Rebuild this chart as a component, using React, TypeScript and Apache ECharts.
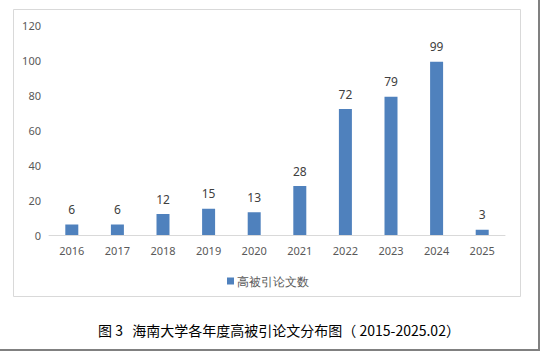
import React, { useEffect, useRef } from "react";
import * as echarts from "echarts";

const categories = ["2016", "2017", "2018", "2019", "2020", "2021", "2022", "2023", "2024", "2025"];
const paperCounts = [6, 6, 12, 15, 13, 28, 72, 79, 99, 3];
const seriesName = "高被引论文数";
const captionText = "图 3   海南大学各年度高被引论文分布图（ 2015-2025.02）";

export default function App() {
  const ref = useRef<HTMLDivElement>(null);
  useEffect(() => {
    if (!ref.current) return;
    const chart = echarts.init(ref.current, null, { renderer: "svg" });
    chart.setOption({
      animation: false,
      backgroundColor: "#ffffff",
      textStyle: { fontFamily: "Noto Sans" },
      grid: { left: 49, right: 35, top: 25, bottom: 116, containLabel: false },
      xAxis: {
        type: "category",
        data: categories,
        axisLine: { show: true, lineStyle: { color: "#d9d9d9", width: 1 } },
        axisTick: { show: false },
        axisLabel: { color: "#595959", fontSize: 11, margin: 10 },
      },
      yAxis: {
        type: "value",
        min: 0,
        max: 120,
        interval: 20,
        axisLine: { show: false },
        axisTick: { show: false },
        splitLine: { show: false },
        axisLabel: { color: "#595959", fontSize: 11, margin: 8 },
      },
      legend: {
        data: [seriesName],
        left: 222,
        top: 270,
        icon: "rect",
        itemWidth: 7,
        itemHeight: 7,
        itemGap: 4,
        textStyle: { color: "#595959", fontSize: 12, padding: [0, 0, 0, -2] },
      },
      series: [
        {
          name: seriesName,
          type: "bar",
          data: paperCounts,
          barWidth: 13,
          itemStyle: { color: "#4f81bd" },
          label: { show: true, position: "top", distance: 9, color: "#404040", fontSize: 12 },
        },
      ],
      graphic: [
        {
          type: "rect",
          shape: { x: 13.5, y: 9.5, width: 507, height: 287 },
          style: { fill: "none", stroke: "#d9d9d9", lineWidth: 1 },
          silent: true,
        },
        {
          type: "line",
          shape: { x1: 539, y1: 0, x2: 539, y2: 351 },
          style: { stroke: "#808080", lineWidth: 2 },
          silent: true,
        },
        {
          type: "line",
          shape: { x1: 0, y1: 350, x2: 540, y2: 350 },
          style: { stroke: "#808080", lineWidth: 2 },
          silent: true,
        },
        {
          type: "text",
          x: 98,
          y: 330,
          style: {
            text: captionText,
            fill: "#000000",
            fontSize: 14,
            fontFamily: "Noto Sans CJK SC",
            verticalAlign: "middle",
            align: "left",
          },
          silent: true,
        },
      ],
    });
    return () => chart.dispose();
  }, []);
  return (
    <div
      ref={ref}
      style={{ position: "fixed", left: 0, top: 0, width: 540, height: 351 }}
    />
  );
}
